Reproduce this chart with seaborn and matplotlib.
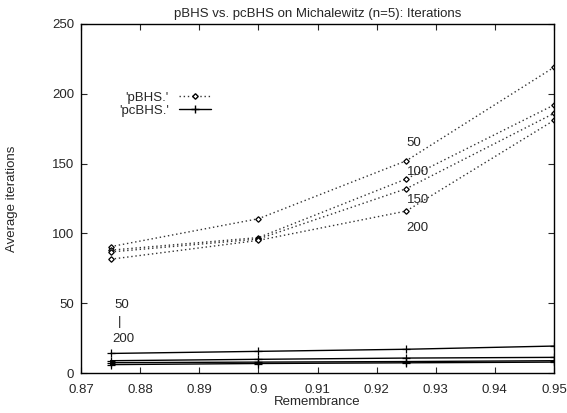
import numpy as np
import pandas as pd
import matplotlib
matplotlib.use('Agg')
import matplotlib.pyplot as plt
from matplotlib.lines import Line2D
import seaborn as sns

# remembrance values on the x axis
remembrance = [0.875, 0.9, 0.925, 0.95]
sizes = [50, 100, 150, 200]

# average iterations
pbhs_50 = [90.5, 110.5, 152, 219]
pbhs_100 = [88, 97, 139, 192]
pbhs_150 = [86.7, 96, 132, 186]
pbhs_200 = [81.5, 95, 116, 181]

pcbhs_50 = [14, 15.5, 17, 19.3]
pcbhs_100 = [8.8, 9.8, 10.7, 11.2]
pcbhs_150 = [7.4, 7.8, 8.2, 8.8]
pcbhs_200 = [6.0, 6.8, 7.3, 7.8]

pbhs = [pbhs_50, pbhs_100, pbhs_150, pbhs_200]
pcbhs = [pcbhs_50, pcbhs_100, pcbhs_150, pcbhs_200]

sns.set_style('ticks')
plt.rcParams['font.family'] = ['Liberation Sans', 'DejaVu Sans']
plt.rcParams['font.size'] = 9.5

fig = plt.figure(figsize=(5.67, 4.13), dpi=100)
ax = fig.add_axes([81/567, 40/413, (554-81)/567, (373-24)/413])

for vals in pbhs:
    df = pd.DataFrame({'r': remembrance, 'it': vals})
    sns.lineplot(data=df, x='r', y='it', ax=ax, color='#333333', linestyle=(0, (1, 2)),
                 linewidth=1, marker='D', markersize=2.8, markerfacecolor='white',
                 markeredgecolor='black', markeredgewidth=0.9)

for vals in pcbhs:
    df = pd.DataFrame({'r': remembrance, 'it': vals})
    sns.lineplot(data=df, x='r', y='it', ax=ax, color='black', linewidth=1,
                 marker='+', markersize=6, markeredgecolor='black', markeredgewidth=0.9)

# size labels next to the 0.925 points
for lbl, yv in zip(sizes, [165, 144, 124, 104]):
    ax.text(0.9251, yv, str(lbl), fontsize=9.5, va='center', ha='left')

ax.text(0.8757, 48.5, '50', fontsize=9.5, va='center', ha='left')
ax.text(0.8762, 36.5, '|', fontsize=9.5, va='center', ha='left')
ax.text(0.8753, 24, '200', fontsize=9.5, va='center', ha='left')

ax.set_xlim(0.87, 0.95)
ax.set_ylim(0, 250)
ax.set_xticks(np.arange(0.87, 0.9501, 0.01))
ax.set_xticklabels(['0.87', '0.88', '0.89', '0.9', '0.91', '0.92', '0.93', '0.94', '0.95'])
ax.set_yticks([0, 50, 100, 150, 200, 250])
ax.tick_params(direction='in', top=True, right=True, length=4, width=0.8)
ax.tick_params(axis='x', pad=8)
ax.tick_params(axis='y', pad=5)
for s in ax.spines.values():
    s.set_linewidth(1)
    s.set_color('black')

ax.set_xlabel('Remembrance', labelpad=0)
ax.set_ylabel('Average iterations', labelpad=24)
ax.set_title('pBHS vs. pcBHS on Michalewitz (n=5): Iterations', fontsize=9.5, pad=5)

handles = [
    Line2D([], [], color='#333333', linestyle=(0, (1, 2)), linewidth=1, marker='D',
           markersize=2.8, markerfacecolor='white', markeredgecolor='black'),
    Line2D([], [], color='black', linewidth=1, marker='+', markersize=6),
]
ax.legend(handles, ["'pBHS.'", "'pcBHS.'"], loc='upper left', bbox_to_anchor=(0.055, 0.84),
          frameon=False, markerfirst=False, handlelength=2.4, handletextpad=0.8,
          labelspacing=0.05, fontsize=9.5)

fig.savefig('out.png', dpi=100)
